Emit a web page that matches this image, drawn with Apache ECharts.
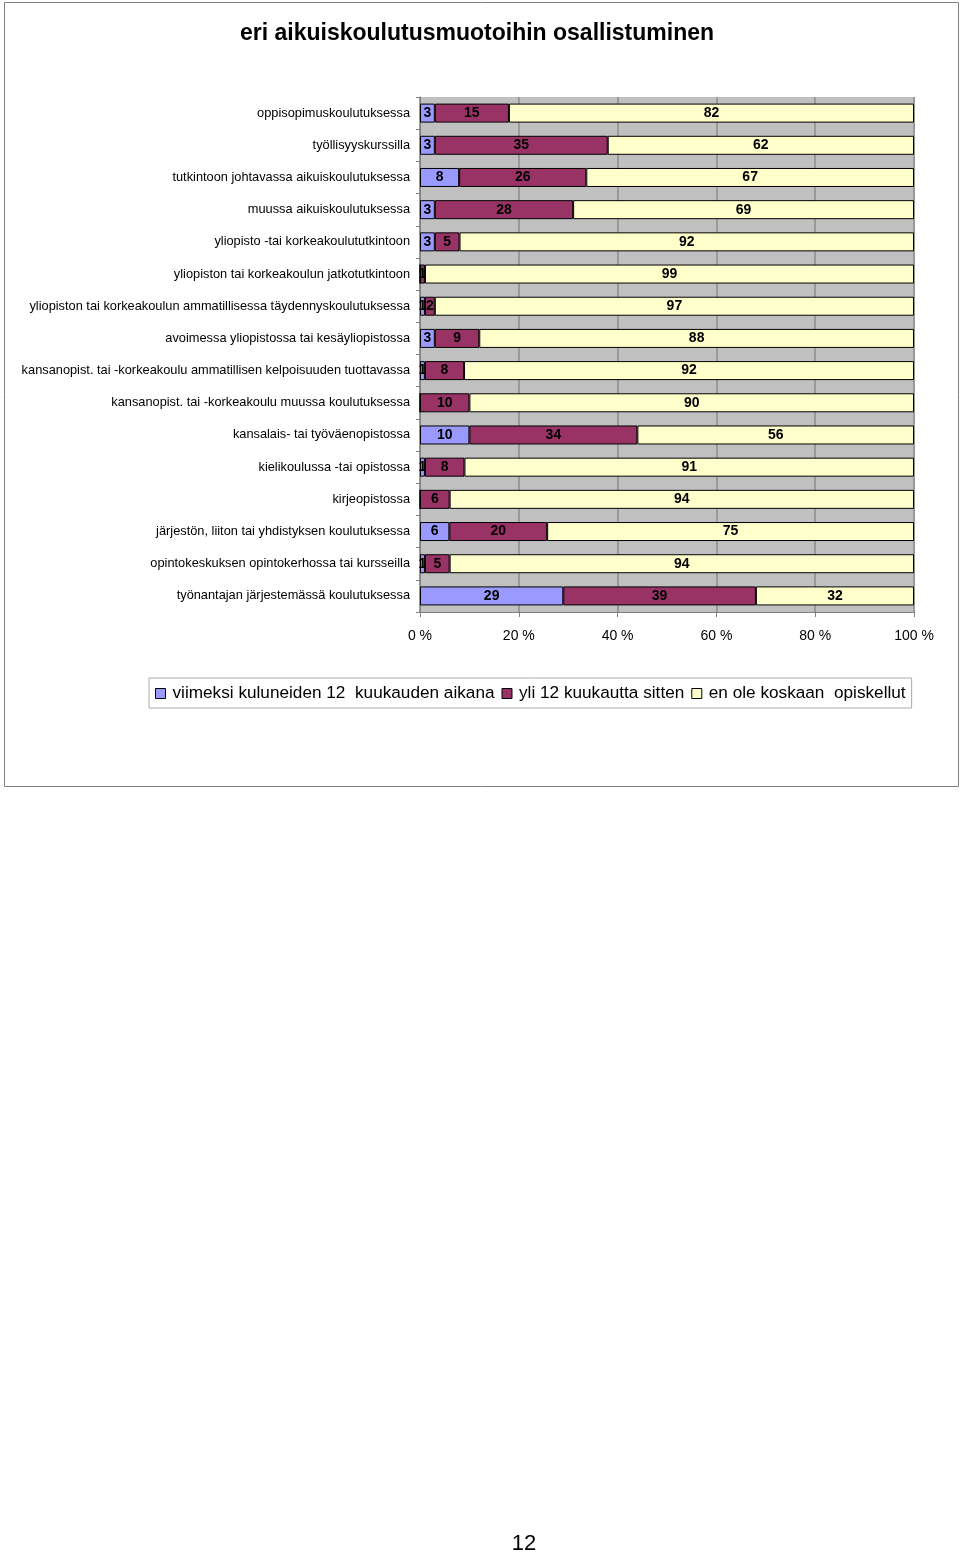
<!DOCTYPE html>
<html>
<head>
<meta charset="utf-8">
<script src="https://cdn.jsdelivr.net/npm/echarts@6/dist/echarts.min.js"></script>
<style>
html,body{margin:0;padding:0;background:#fff;}
#c{width:960px;height:1555px;}
</style>
</head>
<body>
<div id="c"></div>
<script>
const categories = [
  "oppisopimuskoulutuksessa",
  "työllisyyskurssilla",
  "tutkintoon johtavassa aikuiskoulutuksessa",
  "muussa aikuiskoulutuksessa",
  "yliopisto -tai korkeakoulututkintoon",
  "yliopiston tai korkeakoulun jatkotutkintoon",
  "yliopiston tai korkeakoulun ammatillisessa täydennyskoulutuksessa",
  "avoimessa yliopistossa tai kesäyliopistossa",
  "kansanopist. tai -korkeakoulu ammatillisen kelpoisuuden tuottavassa",
  "kansanopist. tai -korkeakoulu muussa koulutuksessa",
  "kansalais- tai työväenopistossa",
  "kielikoulussa -tai opistossa",
  "kirjeopistossa",
  "järjestön, liiton tai yhdistyksen koulutuksessa",
  "opintokeskuksen opintokerhossa tai kursseilla",
  "työnantajan järjestemässä koulutuksessa"
];
const seriesNames = [
  "viimeksi kuluneiden 12  kuukauden aikana",
  "yli 12 kuukautta sitten",
  "en ole koskaan  opiskellut"
];
const recent  = [3, 3, 8, 3, 3, 0, 1, 3, 1, 0, 10, 1, 0, 6, 1, 29];
const earlier = [15, 35, 26, 28, 5, 1, 2, 9, 8, 10, 34, 8, 6, 20, 5, 39];
const never   = [82, 62, 67, 69, 92, 99, 97, 88, 92, 90, 56, 91, 94, 75, 94, 32];
const xTicks = ["0 %", "20 %", "40 %", "60 %", "80 %", "100 %"];
const colors = ["#9999FF", "#993366", "#FFFFCC"];

// 100% stacked: each row shown as share of its own total, labels show the read values
const raw = [recent, earlier, never];
const totals = categories.map((_, i) => recent[i] + earlier[i] + never[i]);
const FONT = 'Liberation Sans, Arial, sans-serif';

const chart = echarts.init(document.getElementById('c'));
const series = raw.map((arr, s) => ({
  name: seriesNames[s],
  type: 'bar',
  stack: 'all',
  barWidth: 19,
  itemStyle: { color: colors[s], borderColor: '#000', borderWidth: 1 },
  label: {
    show: true,
    position: 'inside',
    color: '#000',
    fontWeight: 'bold',
    fontSize: 14,
    fontFamily: FONT,
    formatter: p => (p.data.raw ? String(p.data.raw) : '')
  },
  data: arr.map((v, i) => ({ value: v * 100 / totals[i], raw: v }))
}));

chart.setOption({
  animation: false,
  textStyle: { fontFamily: FONT },
  legend: {
    left: 149, top: 678,
    itemWidth: 10, itemHeight: 10, itemGap: 7,
    icon: 'rect',
    padding: [7, 6, 6, 6],
    borderColor: '#aaa', borderWidth: 1,
    itemStyle: { borderColor: '#000', borderWidth: 1 },
    textStyle: { fontSize: 17.2, color: '#000', padding: [0, 0, 0, 2] },
    data: seriesNames
  },
  grid: {
    left: 420, right: 46, top: 97, bottom: 943,
    show: true, backgroundColor: '#C0C0C0', borderWidth: 0
  },
  xAxis: {
    type: 'value', min: 0, max: 100, interval: 20,
    axisLine: { show: true, lineStyle: { color: '#808080' } },
    axisTick: { show: true, length: 5, lineStyle: { color: '#808080' } },
    splitLine: { show: true, lineStyle: { color: '#999', width: 2 } },
    axisLabel: {
      fontSize: 14, color: '#000', margin: 17,
      formatter: v => xTicks[Math.round(v / 20)]
    }
  },
  yAxis: {
    type: 'category', inverse: true, data: categories,
    axisLine: { show: true, lineStyle: { color: '#808080' } },
    axisTick: { show: true, length: 4, lineStyle: { color: '#808080' } },
    axisLabel: { fontSize: 12.8, color: '#000', margin: 10 }
  },
  graphic: [
    { type: 'rect', shape: { x: 4.5, y: 2.5, width: 954, height: 784 },
      style: { fill: null, stroke: '#808080', lineWidth: 1 }, z: -1 },
    { type: 'text', x: 477, y: 34,
      style: { text: 'eri aikuiskoulutusmuotoihin osallistuminen', fontSize: 23, fontWeight: 'bold',
               fill: '#000', fontFamily: FONT, align: 'center', verticalAlign: 'middle' } },
    { type: 'text', x: 524, y: 1544,
      style: { text: '12', fontSize: 22, fill: '#000', fontFamily: FONT, align: 'center', verticalAlign: 'middle' } }
  ],
  series: series
});
</script>
</body>
</html>
